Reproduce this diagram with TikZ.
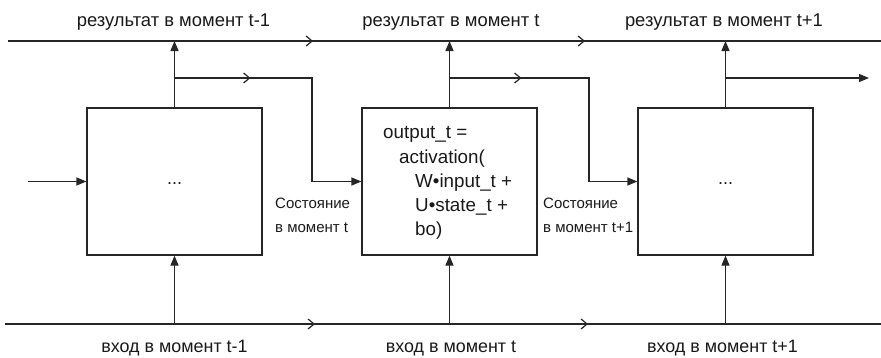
\documentclass[tikz,border=0pt]{standalone}
\usepackage{fontspec}
\setmainfont{Liberation Sans}
\usetikzlibrary{arrows.meta,decorations.markings}
\begin{document}
\begin{tikzpicture}[x=1pt,y=-1pt,
  line/.style={draw=black!85, line width=1.2pt},
  tip/.style={-{Triangle[length=10pt,width=8pt]}},
  chevmark/.style={postaction={decorate},
    decoration={markings,
      mark=at position #1 with {\arrow[line width=1.2pt,black!85]{Straight Barb[length=6pt,width=10pt]}}}},
  chevtwo/.style n args={2}{postaction={decorate},
    decoration={markings,
      mark=at position #1 with {\arrow[line width=1.2pt,black!85]{Straight Barb[length=6pt,width=10pt]}},
      mark=at position #2 with {\arrow[line width=1.2pt,black!85]{Straight Barb[length=6pt,width=10pt]}}}},
  box/.style={line, minimum width=175pt, minimum height=147pt, inner sep=0pt},
  toplab/.style={font=\fontsize{18.4}{22}\selectfont, text=black!90, inner sep=0pt, anchor=base},
  botlab/.style={font=\fontsize{17.9}{22}\selectfont, text=black!90, inner sep=0pt, anchor=base},
  stlab/.style={font=\fontsize{15}{24}\selectfont, text=black!90, inner sep=0pt, align=left, anchor=west},
  code/.style={font=\fontsize{18.8}{24.2}\selectfont, text=black!90, inner sep=0pt, align=left, anchor=north west},
  dots/.style={font=\fontsize{18}{22}\selectfont, text=black!90}
]
\useasboundingbox (0,0) rectangle (881,357);

% boxes
\node[box, dots] (c1) at (174.5,181.5) {\raisebox{-6pt}{...}};
\node[box] (c2) at (449.5,181.5) {};
\node[box, dots] (c3) at (725.5,181.5) {\raisebox{-6pt}{...}};

\node[code] (f) at (383,126.5) {output\_t =\\\hspace*{16pt}activation(\\\hspace*{32pt}W•input\_t +\\\hspace*{32pt}U•state\_t +\\\hspace*{32pt}bo)};

% coordinates
\coordinate (tl0) at (8,41);
\coordinate (tl1) at (881,41);
\coordinate (bl0) at (5,324);
\coordinate (bl1) at (881,324);
\coordinate (o1) at (174.5,41);
\coordinate (o2) at (449.5,41);
\coordinate (o3) at (725.5,41);
\coordinate (i1) at (174.5,324);
\coordinate (i2) at (449.5,324);
\coordinate (i3) at (725.5,324);
\coordinate (j1) at (174.5,78);
\coordinate (k1) at (312,78);
\coordinate (j2) at (449.5,78);
\coordinate (k2) at (589,78);
\coordinate (j3) at (725.5,78);
\coordinate (e3) at (869,78);
\coordinate (in0) at (28,181.5);

% main lines
\draw[line, chevtwo={305pt}{577pt}] (tl0) -- (tl1);
\draw[line, chevtwo={310pt}{583pt}] (bl0) -- (bl1);

% outputs up
\draw[line, tip] (c1.north) -- (o1);
\draw[line, tip] (c2.north) -- (o2);
\draw[line, tip] (c3.north) -- (o3);

% inputs up
\draw[line, tip] (i1) -- (c1.south);
\draw[line, tip] (i2) -- (c2.south);
\draw[line, tip] (i3) -- (c3.south);

% state connectors
\draw[line, tip, chevmark=76pt] (j1) -- (k1) |- (c2.west);
\draw[line, tip, chevmark=72pt] (j2) -- (k2) |- (c3.west);
\draw[line, tip] (j3) -- (e3);
\draw[line, tip] (in0) -- (c1.west);

% labels
\node[toplab] (r1) at (173.5,26.7) {результат в момент t-1};
\node[toplab] (r2) at (451,26.7) {результат в момент t};
\node[toplab] (r3) at (724,26.7) {результат в момент t+1};
\node[botlab] (x1) at (174.5,352.7) {вход в момент t-1};
\node[botlab] (x2) at (451,352.7) {вход в момент t};
\node[botlab] (x3) at (722.5,352.7) {вход в момент t+1};

\node[stlab] (s1) at (275,215) {Состояние\\в момент t};
\node[stlab] (s2) at (543,215) {Состояние\\в момент t+1};
\end{tikzpicture}
\end{document}
